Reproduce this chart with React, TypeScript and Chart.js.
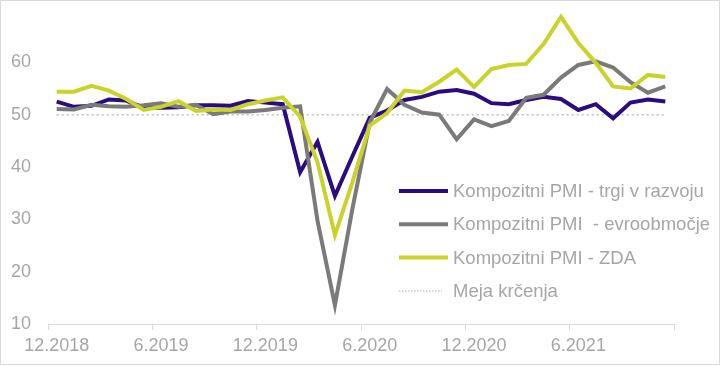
import React, { useEffect, useRef } from "react";
import { Chart, registerables } from "chart.js";

Chart.register(...registerables);

const months = [
  "12.2018", "1.2019", "2.2019", "3.2019", "4.2019", "5.2019", "6.2019", "7.2019", "8.2019", "9.2019", "10.2019", "11.2019",
  "12.2019", "1.2020", "2.2020", "3.2020", "4.2020", "5.2020", "6.2020", "7.2020", "8.2020", "9.2020", "10.2020", "11.2020",
  "12.2020", "1.2021", "2.2021", "3.2021", "4.2021", "5.2021", "6.2021", "7.2021", "8.2021", "9.2021", "10.2021", "11.2021",
];

const tickLabels = ["12.2018", "6.2019", "12.2019", "6.2020", "12.2020", "6.2021"];

const emergingMarkets = [
  52.5, 51.5, 51.7, 52.9, 52.7, 51.3, 51.3, 51.4, 51.8, 51.8, 51.7, 52.6,
  52.3, 52.0, 39.0, 44.8, 34.5, 42.0, 49.4, 50.8, 52.8, 53.4, 54.4, 54.7,
  54.0, 52.2, 52.0, 52.8, 53.4, 53.0, 50.9, 52.0, 49.3, 52.3, 52.9, 52.5,
];

const euroArea = [
  51.1, 51.0, 51.9, 51.6, 51.5, 51.8, 52.2, 51.5, 51.9, 50.1, 50.6, 50.6,
  50.9, 51.3, 51.6, 29.7, 13.6, 31.9, 48.5, 54.9, 51.9, 50.4, 50.0, 45.3,
  49.1, 47.8, 48.8, 53.2, 53.8, 57.1, 59.5, 60.2, 59.0, 56.2, 54.2, 55.4,
];

const usa = [
  54.4, 54.4, 55.5, 54.6, 53.0, 50.9, 51.5, 52.6, 50.7, 51.0, 50.9, 52.0,
  52.7, 53.3, 49.6, 40.9, 27.0, 37.0, 47.9, 50.3, 54.6, 54.3, 56.3, 58.6,
  55.3, 58.7, 59.5, 59.7, 63.5, 68.7, 63.7, 59.9, 55.4, 55.0, 57.6, 57.2,
];

const contractionLimit = [
  50, 50, 50, 50, 50, 50, 50, 50, 50, 50, 50, 50,
  50, 50, 50, 50, 50, 50, 50, 50, 50, 50, 50, 50,
  50, 50, 50, 50, 50, 50, 50, 50, 50, 50, 50, 50,
];

const seriesLabels = [
  "Kompozitni PMI - trgi v razvoju",
  "Kompozitni PMI  - evroobmočje",
  "Kompozitni PMI - ZDA",
  "Meja krčenja",
];

const FONT = "'Liberation Sans', Arial, sans-serif";
const TEXT_GRAY = "#a6a6a6";
const AXIS_GRAY = "#d9d9d9";

const legendPlugin = {
  id: "insideLegend",
  afterDraw(chart: any) {
    const ctx = chart.ctx;
    const datasets = chart.data.datasets;
    const x0 = 399;
    const lineLen = 49;
    const textX = 453;
    const yStart = 191;
    const step = 33.3;
    ctx.save();
    ctx.font = `18.5px ${FONT}`;
    ctx.textBaseline = "middle";
    ctx.textAlign = "left";
    datasets.forEach((ds: any, i: number) => {
      const y = yStart + i * step;
      const dotted = ds.borderDash && ds.borderDash.length;
      ctx.beginPath();
      ctx.strokeStyle = ds.borderColor;
      ctx.lineWidth = dotted ? 1.3 : ds.borderWidth;
      ctx.setLineDash(dotted ? [1.5, 1.5] : []);
      ctx.lineCap = "butt";
      ctx.moveTo(x0, y);
      ctx.lineTo(x0 + (dotted ? 43 : lineLen), y);
      ctx.stroke();
      ctx.setLineDash([]);
      ctx.fillStyle = TEXT_GRAY;
      ctx.fillText(ds.label, textX, y + 1);
    });
    ctx.restore();
  },
};

export default function App() {
  const canvasRef = useRef<HTMLCanvasElement | null>(null);

  useEffect(() => {
    if (!canvasRef.current) return;
    const chart = new Chart(canvasRef.current, {
      type: "line",
      data: {
        labels: months,
        datasets: [
          {
            label: seriesLabels[0],
            data: emergingMarkets,
            borderColor: "#2b0c80",
            borderWidth: 4,
            pointRadius: 0,
            tension: 0,
            fill: false,
            order: 3,
          },
          {
            label: seriesLabels[1],
            data: euroArea,
            borderColor: "#7a7a7a",
            borderWidth: 4,
            pointRadius: 0,
            tension: 0,
            fill: false,
            order: 2,
          },
          {
            label: seriesLabels[2],
            data: usa,
            borderColor: "#c9d32a",
            borderWidth: 4,
            pointRadius: 0,
            tension: 0,
            fill: false,
            order: 1,
          },
          {
            label: seriesLabels[3],
            data: contractionLimit,
            borderColor: "#bfbfbf",
            borderWidth: 1.5,
            borderDash: [2, 3],
            pointRadius: 0,
            tension: 0,
            fill: false,
            order: 4,
          },
        ],
      },
      options: {
        responsive: false,
        animation: false,
        devicePixelRatio: 1,
        layout: { padding: { top: 10, right: 47, left: 0, bottom: 0 } },
        plugins: {
          legend: { display: false },
          tooltip: { enabled: false },
        },
        scales: {
          x: {
            type: "category",
            offset: true,
            grid: {
              display: true,
              drawOnChartArea: false,
              drawTicks: true,
              tickLength: 6,
              offset: true,
              color: (c: any) =>
                c.index === undefined || c.index % 6 === 0 ? AXIS_GRAY : "rgba(0,0,0,0)",
            },
            border: { display: true, color: AXIS_GRAY, width: 1 },
            ticks: {
              autoSkip: false,
              maxRotation: 0,
              minRotation: 0,
              padding: 5,
              color: TEXT_GRAY,
              font: { family: FONT, size: 18 },
              callback: (_v: any, idx: number) =>
                tickLabels.includes(months[idx]) ? months[idx] : "",
            },
            afterFit: (scale: any) => {
              scale.height = 42;
              scale.paddingLeft = 0;
              scale.paddingRight = 0;
            },
          },
          y: {
            type: "linear",
            min: 10,
            max: 70,
            grid: { display: false, drawTicks: false },
            border: { display: false },
            ticks: {
              stepSize: 10,
              padding: 17,
              color: TEXT_GRAY,
              font: { family: FONT, size: 18 },
              callback: (v: any) => (v === 70 ? "" : String(v)),
            },
            afterFit: (scale: any) => {
              scale.width = 48;
              scale.paddingTop = 0;
              scale.paddingBottom = 0;
            },
          },
        },
      },
      plugins: [legendPlugin],
    });
    return () => chart.destroy();
  }, []);

  return (
    <div style={{ position: "absolute", left: 0, top: 0, width: 721, height: 366, background: "#fff" }}>
      <canvas ref={canvasRef} width={721} height={366} style={{ display: "block", width: 721, height: 366 }} />
      <div
        style={{
          position: "absolute",
          left: 0,
          top: 0,
          width: 720,
          height: 365,
          boxSizing: "border-box",
          border: `1px solid ${AXIS_GRAY}`,
          pointerEvents: "none",
        }}
      />
    </div>
  );
}
